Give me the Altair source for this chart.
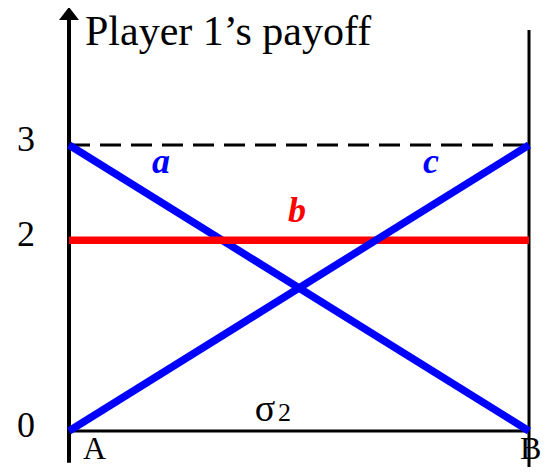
import altair as alt
import pandas as pd

# ---- data ----
positions = [0, 1]            # pure strategies A and B of player 2 (sigma_2 runs between them)
end_labels = ["A", "B"]
series_names = ["a", "b", "c"]
a_values = [3, 0]
b_values = [2, 2]
c_values = [0, 3]
y_ticks = [0, 2, 3]
max_payoff = 3

rows = []
for name, vals in zip(series_names, [a_values, b_values, c_values]):
    for x, y in zip(positions, vals):
        rows.append({"series": name, "x": x, "y": y})
lines_df = pd.DataFrame(rows)
ticks_df = pd.DataFrame({"tick": y_ticks})
dummy = pd.DataFrame({"_": [0]})

BLUE = "#0000ff"
RED = "#ff0000"
SERIF = "Liberation Serif"

W = 494
H = 459
xs = alt.Scale(domain=[-21 / 460, (W - 21) / 460], nice=False, zero=False)
ys = alt.Scale(domain=[-36 / 95.333, 3 + 137 / 95.333], nice=False, zero=False)

base = alt.Chart(dummy)

def X(v):
    return alt.X(datum=v, type="quantitative", scale=xs, axis=None)

def Y(v):
    return alt.Y(datum=v, type="quantitative", scale=ys, axis=None)

# frame
left_axis = base.mark_rule(color="black", strokeWidth=4).encode(
    x=X(0), y=Y(-0.333), y2=alt.Y2(datum=4.33))
arrow = base.mark_point(shape="M0,-0.65L-1,0.65L1,0.65Z", filled=True, color="black",
                        size=400, opacity=1).encode(x=X(0), y=Y(4.379))
right_line = base.mark_rule(color="black", strokeWidth=3).encode(
    x=X(1), y=Y(-0.377), y2=alt.Y2(datum=4.206))
bottom_line = base.mark_rule(color="black", strokeWidth=3).encode(
    x=X(0), x2=alt.X2(datum=1), y=Y(0))
dashed = base.mark_rule(color="black", strokeWidth=3, strokeDash=[21, 10]).encode(
    x=X(0), x2=alt.X2(datum=1), y=Y(max_payoff))

lines = alt.Chart(lines_df).mark_line(strokeWidth=7.5).encode(
    x=alt.X("x:Q", scale=xs, axis=None),
    y=alt.Y("y:Q", scale=ys, axis=None),
    color=alt.Color("series:N", scale=alt.Scale(domain=series_names, range=[BLUE, RED, BLUE]),
                    legend=None),
    detail="series:N",
)

tick_labels = alt.Chart(ticks_df).mark_text(
    font=SERIF, fontSize=36, color="black", align="right", baseline="alphabetic", dy=6
).encode(
    x=alt.value(-13),
    y=alt.Y("tick:Q", scale=ys, axis=None),
    text=alt.Text("tick:Q", format="d"),
)

def txt(t, x, y, size, color="black", style="normal", weight="normal", align="left"):
    return base.mark_text(text=t, font=SERIF, fontSize=size, color=color, fontStyle=style,
                          fontWeight=weight, align=align, baseline="alphabetic").encode(
        x=alt.value(x), y=alt.value(y))

texts = [
    txt("Player 1\u2019s payoff", 37, 37, 42),
    txt("a", 113, 165, 36, BLUE, "italic", "bold", "center"),
    txt("c", 383, 165, 36, BLUE, "italic", "bold", "center"),
    txt("b", 249, 214, 36, RED, "italic", "bold", "center"),
    txt("\u03c3", 217, 413, 38, align="center"),
    txt("2", 230, 413, 26),
    txt(end_labels[0], 35, 451, 32),
    txt(end_labels[1], 472, 451, 32),
]

chart = alt.layer(dashed, bottom_line, right_line, left_axis, arrow, lines, tick_labels,
                  *texts).properties(
    width=W, height=H,
    padding={"left": 40, "top": 0, "right": 0, "bottom": 0},
    autosize=alt.AutoSizeParams(type="none"),
    background="white",
).configure_view(stroke=None)

chart.save("out.html", embed_options={"renderer": "svg", "actions": False})
